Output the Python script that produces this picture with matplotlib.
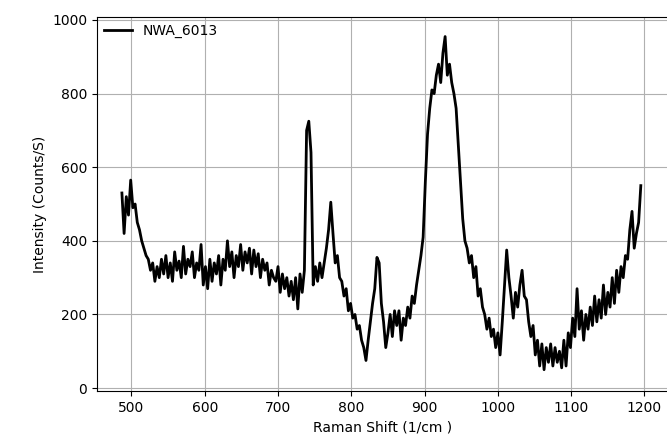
'''
    Raman spectrum of NWA 6013
'''
import matplotlib
matplotlib.use('Agg')
import matplotlib.pyplot as plt

shift = [
    487, 490, 493, 496, 499, 502, 505, 508, 511, 514,
    517, 520, 523, 526, 529, 532, 535, 538, 541, 544,
    547, 550, 553, 556, 559, 562, 565, 568, 571, 574,
    577, 580, 583, 586, 589, 592, 595, 598, 601, 604,
    607, 610, 613, 616, 619, 622, 625, 628, 631, 634,
    637, 640, 643, 646, 649, 652, 655, 658, 661, 664,
    667, 670, 673, 676, 679, 682, 685, 688, 691, 694,
    697, 700, 703, 706, 709, 712, 715, 718, 721, 724,
    727, 730, 733, 736, 739, 742, 745, 748, 751, 754,
    757, 760, 763, 766, 769, 772, 775, 778, 781, 784,
    787, 790, 793, 796, 799, 802, 805, 808, 811, 814,
    817, 820, 823, 826, 829, 832, 835, 838, 841, 844,
    847, 850, 853, 856, 859, 862, 865, 868, 871, 874,
    877, 880, 883, 886, 889, 892, 895, 898, 901, 904,
    907, 910, 913, 916, 919, 922, 925, 928, 931, 934,
    937, 940, 943, 946, 949, 952, 955, 958, 961, 964,
    967, 970, 973, 976, 979, 982, 985, 988, 991, 994,
    997, 1000, 1003, 1006, 1009, 1012, 1015, 1018, 1021, 1024,
    1027, 1030, 1033, 1036, 1039, 1042, 1045, 1048, 1051, 1054,
    1057, 1060, 1063, 1066, 1069, 1072, 1075, 1078, 1081, 1084,
    1087, 1090, 1093, 1096, 1099, 1102, 1105, 1108, 1111, 1114,
    1117, 1120, 1123, 1126, 1129, 1132, 1135, 1138, 1141, 1144,
    1147, 1150, 1153, 1156, 1159, 1162, 1165, 1168, 1171, 1174,
    1177, 1180, 1183, 1186, 1189, 1192, 1195,
]
intensity = [
    530, 420, 520, 470, 565, 490, 500, 450, 430, 400,
    380, 360, 350, 320, 340, 290, 330, 300, 350, 310,
    360, 300, 340, 290, 370, 320, 345, 300, 385, 310,
    350, 330, 370, 300, 340, 320, 390, 280, 330, 270,
    350, 290, 340, 310, 360, 280, 350, 320, 400, 330,
    370, 300, 360, 330, 390, 320, 370, 340, 380, 310,
    375, 330, 365, 300, 350, 320, 340, 280, 320, 300,
    290, 330, 260, 310, 270, 300, 250, 290, 240, 300,
    215, 310, 260, 320, 700, 725, 640, 280, 330, 290,
    340, 300, 340, 380, 430, 505, 420, 340, 360, 300,
    290, 250, 270, 210, 230, 190, 200, 160, 170, 130,
    110, 75, 130, 180, 230, 270, 355, 340, 230, 180,
    110, 150, 200, 140, 210, 170, 210, 130, 190, 170,
    220, 190, 250, 230, 280, 320, 360, 410, 560, 690,
    760, 810, 800, 850, 880, 830, 910, 955, 850, 880,
    830, 800, 760, 660, 560, 460, 400, 380, 340, 360,
    300, 330, 250, 270, 220, 200, 160, 190, 140, 160,
    110, 150, 90, 180, 280, 375, 300, 250, 190, 260,
    220, 280, 320, 250, 240, 180, 140, 170, 90, 130,
    60, 120, 50, 110, 70, 120, 60, 110, 70, 100,
    55, 130, 60, 150, 110, 190, 140, 270, 160, 210,
    130, 200, 160, 220, 170, 250, 180, 240, 190, 280,
    200, 260, 220, 300, 230, 320, 260, 330, 300, 360,
    350, 430, 480, 380, 420, 450, 550,
]

fig = plt.figure(figsize=(6.67, 4.45), dpi=100)
ax = fig.add_axes([0.1454, 0.1213, 0.856, 0.8404])

ax.plot(shift, intensity, color='black', linewidth=2.0, label='NWA_6013')

ax.set_xlim(453, 1232)
ax.set_ylim(-8, 1008)
ax.set_xticks([500, 600, 700, 800, 900, 1000, 1100, 1200])
ax.set_yticks([0, 200, 400, 600, 800, 1000])
ax.grid(True)

ax.set_xlabel('Raman Shift (1/cm )')
ax.set_ylabel('Intensity (Counts/S)')
ax.legend(loc='upper left', frameon=False, borderaxespad=0.1)

fig.savefig('out.png', dpi=100)
